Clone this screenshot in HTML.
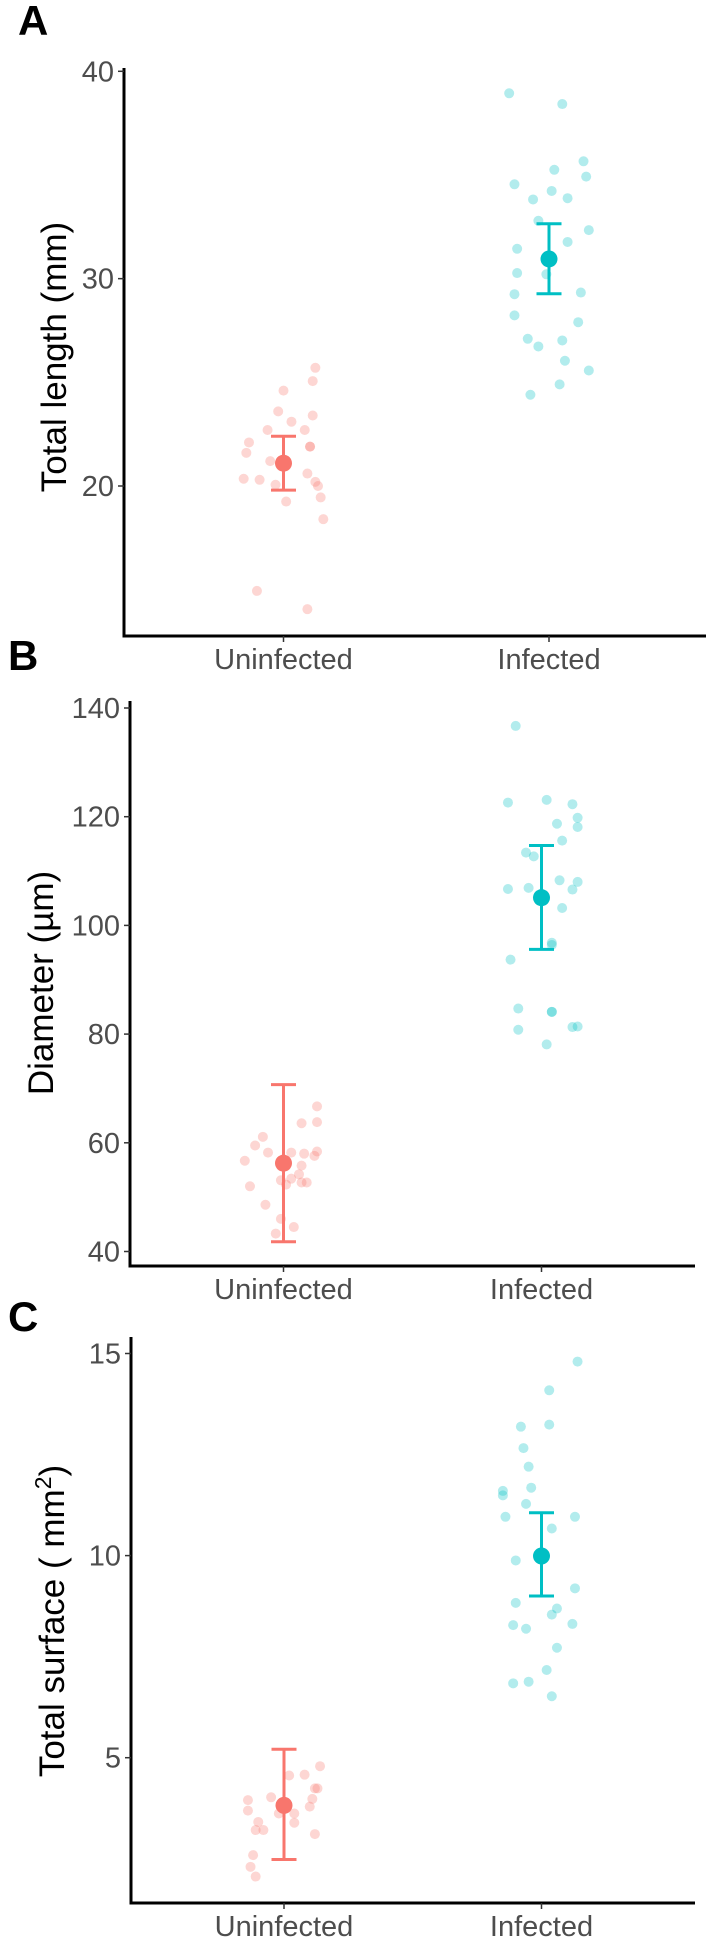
<!DOCTYPE html>
<html><head><meta charset="utf-8"><style>
html,body{margin:0;padding:0;background:#fff;}
svg{display:block;font-family:"Liberation Sans",sans-serif;}
</style></head><body>
<svg id="chart" width="711" height="1939" viewBox="0 0 711 1939" xmlns="http://www.w3.org/2000/svg"></svg>
<script>
const categories = ["Uninfected","Infected"];
// Panel A: Total length (mm)
const aUninf = [25.7,25.06,24.6,23.6,23.4,23.1,22.7,22.7,22.1,21.9,21.9,21.6,21.2,20.6,20.35,20.3,20.06,20.2,20.0,19.45,19.25,18.4,14.94,14.06];
const aUninfJit = [.12,.11,0,-.02,.11,.03,-.06,.08,-.13,.1,.1,-.14,-.05,.09,-.15,-.09,-.03,.12,.13,.14,.01,.15,-.1,.09];
const aInf = [38.94,38.42,35.66,35.25,34.92,34.55,34.23,33.82,33.88,32.79,32.34,31.77,31.44,30.27,30.21,29.25,29.33,28.23,27.9,27.1,27.02,26.73,26.04,25.57,24.9,24.4];
const aInfJit = [-.15,.05,.13,.02,.14,-.13,.01,-.06,.07,-.04,.15,.07,-.12,-.12,-.01,-.13,.12,-.13,.11,-.08,.05,-.04,.06,.15,.04,-.07];
const aMeans = [21.1,30.95];
const aLow = [19.8,29.27];
const aHigh = [22.4,32.65];
const aTicks = [20,30,40];
// Panel B: Diameter (µm)
const bUninf = [66.7,63.8,63.6,61.1,59.5,58.2,58.2,58.0,58.4,57.6,56.7,55.8,54.2,53.1,53.4,52.7,52.7,52.0,52.3,48.6,46.0,44.5,43.3];
const bUninfJit = [.13,.13,.07,-.08,-.11,-.06,.03,.08,.13,.12,-.15,.07,.06,-.01,.03,.07,.09,-.13,.01,-.07,-.01,.04,-.03];
const bInf = [136.7,122.6,123.1,122.3,119.8,118.7,118.1,115.6,113.4,112.7,106.7,106.9,108.3,108.0,106.6,103.2,96.8,96.4,93.7,84.7,84.1,84.1,80.8,81.3,81.4,78.1];
const bInfJit = [-.1,-.13,.02,.12,.14,.06,.14,.08,-.06,-.03,-.13,-.05,.07,.14,.12,.08,.04,.04,-.12,-.09,.04,.04,-.09,.12,.14,.02];
const bMeans = [56.25,105.1];
const bLow = [41.8,95.6];
const bHigh = [70.7,114.7];
const bTicks = [40,60,80,100,120,140];
// Panel C: Total surface (mm2)
const cUninf = [4.79,4.56,4.58,4.24,4.24,3.95,4.02,3.98,3.75,3.79,3.69,3.62,3.62,3.39,3.41,3.21,3.21,3.11,2.59,2.30,2.06];
const cUninfJit = [.14,.02,.08,.12,.13,-.14,-.05,.11,.01,.1,-.14,.04,-.02,.04,-.1,-.11,-.08,.12,-.12,-.13,-.11];
const cInf = [14.8,14.09,13.19,13.24,12.66,12.2,11.68,11.6,11.49,11.28,10.96,10.96,10.67,9.88,9.19,8.83,8.69,8.54,8.28,8.19,8.31,7.72,7.17,6.84,6.88,6.52];
const cInfJit = [.14,.03,-.08,.03,-.07,-.05,-.04,-.15,-.15,-.06,-.14,.13,.04,-.1,.13,-.1,.06,.04,-.11,-.06,.12,.06,.02,-.11,-.05,.04];
const cMeans = [3.82,9.99];
const cLow = [2.48,9.0];
const cHigh = [5.21,11.06];
const cTicks = [5,10,15];

const NS="http://www.w3.org/2000/svg";
const svg=document.getElementById('chart');
function mk(tag,attrs,parent,text){const e=document.createElementNS(NS,tag);for(const k in attrs)e.setAttribute(k,attrs[k]);if(text!==undefined)e.textContent=text;(parent||svg).appendChild(e);return e;}
const COLS=["#F8766D","#00BFC4"];

function panel(cfg){
  const g=mk('g',{});
  
  
  const y=v=>cfg.y0px+(v-cfg.v0)*(cfg.y1px-cfg.y0px)/(cfg.v1-cfg.v0);
  const xc=[cfg.cx0,cfg.cx1];
  const band=cfg.cx1-cfg.cx0;
  // letter
  const L=mk('text',{x:cfg.lx,y:cfg.ly,'font-size':42,'font-weight':'bold',fill:'#000'},g,cfg.letter);
  
  
  // points
  const sets=[[cfg.u,cfg.uj],[cfg.i,cfg.ij]];
  sets.forEach((s,ci)=>{
    s[0].forEach((v,k)=>{
      const c=mk('circle',{cx:xc[ci]+s[1][k]*band,cy:y(v),r:5,fill:COLS[ci],'fill-opacity':0.3},g);
      
      
    });
  });
  // error bars and means
  for(let ci=0;ci<2;ci++){
    const eg=mk('g',{stroke:COLS[ci],'stroke-width':3,fill:'none'},g);
    
    
    mk('line',{x1:xc[ci],x2:xc[ci],y1:y(cfg.lo[ci]),y2:y(cfg.hi[ci])},eg);
    mk('line',{x1:xc[ci]-12.5,x2:xc[ci]+12.5,y1:y(cfg.lo[ci]),y2:y(cfg.lo[ci])},eg);
    mk('line',{x1:xc[ci]-12.5,x2:xc[ci]+12.5,y1:y(cfg.hi[ci]),y2:y(cfg.hi[ci])},eg);
    const m=mk('circle',{cx:xc[ci],cy:y(cfg.m[ci]),r:8.5,fill:COLS[ci]},g);
    
    
  }
  // axes
  const ya=mk('line',{x1:cfg.ax,x2:cfg.ax,y1:cfg.atop,y2:cfg.abot+1.5,stroke:'#000','stroke-width':3},g);
  
  
  const xa=mk('line',{x1:cfg.ax-1.5,x2:cfg.aright,y1:cfg.abot,y2:cfg.abot,stroke:'#000','stroke-width':3},g);
  
  
  cfg.ticks.forEach(t=>{
    mk('line',{x1:cfg.ax-6,x2:cfg.ax,y1:y(t),y2:y(t),stroke:'#333','stroke-width':1.5},g);
    const tl=mk('text',{x:cfg.ax-10,y:y(t)+10,'font-size':29,fill:'#4d4d4d','text-anchor':'end'},g,String(t));
    
    
  });
  categories.forEach((c,ci)=>{
    mk('line',{x1:xc[ci],x2:xc[ci],y1:cfg.abot,y2:cfg.abot+6,stroke:'#333','stroke-width':1.5},g);
    const xl=mk('text',{x:xc[ci],y:cfg.abot+33,'font-size':29,fill:'#4d4d4d','text-anchor':'middle'},g,c);
    
    
  });
  const tt=mk('text',{x:0,y:0,'font-size':35,fill:'#000','text-anchor':'middle',transform:`translate(${cfg.tx},${cfg.ty}) rotate(-90)`},g);
  
  
  tt.innerHTML=cfg.title;
}

panel({name:'panel-a-total-length',letter:'A',lx:18,ly:35,u:aUninf,uj:aUninfJit,i:aInf,ij:aInfJit,m:aMeans,lo:aLow,hi:aHigh,ticks:aTicks,
  v0:20,v1:40,y0px:486,y1px:71.3,cx0:283.5,cx1:549,ax:124,atop:68,abot:636,aright:706,tx:66,ty:357,title:'Total length (mm)'});
panel({name:'panel-b-diameter',letter:'B',lx:8,ly:670,u:bUninf,uj:bUninfJit,i:bInf,ij:bInfJit,m:bMeans,lo:bLow,hi:bHigh,ticks:bTicks,
  v0:40,v1:140,y0px:1251.5,y1px:708,cx0:283.5,cx1:541.5,ax:130,atop:701,abot:1266,aright:695,tx:53,ty:983,title:'Diameter (µm)'});
panel({name:'panel-c-total-surface',letter:'C',lx:8,ly:1331,u:cUninf,uj:cUninfJit,i:cInf,ij:cInfJit,m:cMeans,lo:cLow,hi:cHigh,ticks:cTicks,
  v0:5,v1:15,y0px:1757.7,y1px:1353.5,cx0:284,cx1:541.5,ax:131,atop:1337,abot:1903,aright:695,tx:64,ty:1621,title:'Total surface ( mm<tspan font-size="23" dy="-13">2</tspan><tspan dy="13">)</tspan>'});
</script>
</body></html>
